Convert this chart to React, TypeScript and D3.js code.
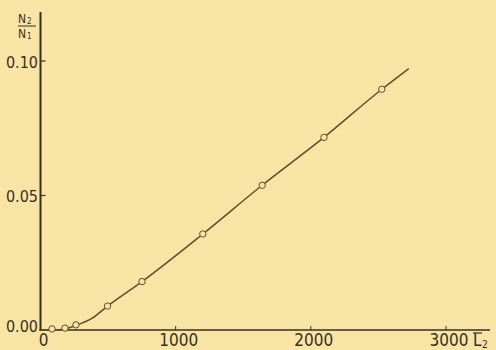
import React from 'react';
import * as d3 from 'd3';

// measured points (L2 vs N2/N1)
const pointL = [85, 181, 262, 496, 751, 1201, 1640, 2097, 2525];
const pointN = [0.0004, 0.0007, 0.0019, 0.0089, 0.018, 0.0357, 0.0538, 0.0716, 0.0895];

// drawn smooth curve through the points
const curveL = [0, 100, 170, 262, 380, 496, 751, 1201, 1640, 2097, 2525, 2725];
const curveN = [0, 0, 0.0003, 0.0017, 0.0043, 0.0089, 0.018, 0.0357, 0.0538, 0.0716, 0.0895, 0.0972];

const xTicks = [0, 1000, 2000, 3000];
const xTickLabels = ['0', '1000', '2000', '3000'];
const yTicks = [0, 0.05, 0.1];
const yTickLabels = ['0.00', '0.05', '0.10'];

const W = 496;
const H = 350;
const BG = '#f8e5a6';
const INK = '#3b2f1c';
const LINE = '#5e4d2c';
const FONT = '"Liberation Sans Narrow", "DejaVu Sans Condensed", Lato, sans-serif';

export default function App() {
  const x = d3.scaleLinear().domain([0, 3000]).range([40.5, 446]);
  const y = d3.scaleLinear().domain([0, 0.1]).range([330, 61]);

  const curve = d3
    .line<number>()
    .x((d, i) => x(curveL[i]))
    .y((d, i) => y(curveN[i]))
    .curve(d3.curveMonotoneX)(curveN);

  return (
    <svg
      width={W}
      height={H}
      style={{ position: 'absolute', left: 0, top: 0, display: 'block' }}
    >
      <rect width={W} height={H} fill={BG} />

      {/* axes */}
      <line x1={x(0)} x2={x(0)} y1={12} y2={y(0) + 1} stroke={INK} strokeWidth={2} />
      <line x1={x(0) - 1} x2={490} y1={y(0)} y2={y(0)} stroke={INK} strokeWidth={1.6} />

      {yTicks.map((t, i) => (
        <g key={'y' + i}>
          {t > 0 && (
            <line x1={x(0)} x2={x(0) + 5} y1={y(t)} y2={y(t)} stroke={INK} strokeWidth={1.2} />
          )}
          <text
            x={38}
            y={y(t) + (t === 0 ? -4 : 1)}
            textAnchor="end"
            dominantBaseline="central"
            fontFamily={FONT}
            fontSize={16}
            fill={INK}
          >
            {yTickLabels[i]}
          </text>
        </g>
      ))}

      {xTicks.map((t, i) => (
        <g key={'x' + i}>
          {t > 0 && (
            <line x1={x(t)} x2={x(t)} y1={y(0)} y2={y(0) - 4} stroke={INK} strokeWidth={1} />
          )}
          <text
            x={x(t) + 3}
            y={346}
            textAnchor="middle"
            fontFamily={FONT}
            fontSize={17}
            fill={INK}
          >
            {xTickLabels[i]}
          </text>
        </g>
      ))}

      {/* x axis title: L bar 2 */}
      <g fontFamily={FONT} fill={INK}>
        <text x={473} y={346} fontSize={17}>L</text>
        <line x1={473} x2={482} y1={333} y2={333} stroke={INK} strokeWidth={1.2} />
        <text x={482} y={348} fontSize={10}>2</text>
      </g>

      {/* y axis title: N2 / N1 */}
      <g fontFamily={FONT} fill={INK}>
        <text x={18} y={23} fontSize={12}>N</text>
        <text x={27} y={24} fontSize={8}>2</text>
        <line x1={18} x2={36} y1={26} y2={26} stroke={INK} strokeWidth={1} />
        <text x={18} y={37.5} fontSize={12}>N</text>
        <text x={27} y={39} fontSize={8}>1</text>
      </g>

      <path d={curve ?? ''} fill="none" stroke={LINE} strokeWidth={1.5} />

      {pointL.map((l, i) => (
        <circle
          key={'p' + i}
          cx={x(l)}
          cy={y(pointN[i])}
          r={3.2}
          fill={BG}
          stroke={LINE}
          strokeWidth={1}
        />
      ))}
    </svg>
  );
}
